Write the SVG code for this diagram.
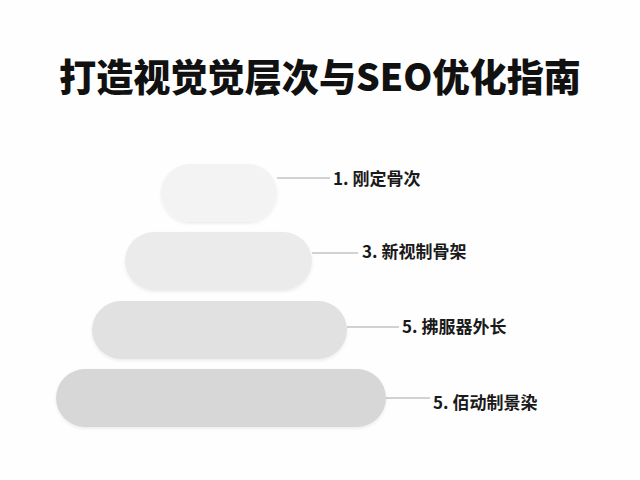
<svg xmlns="http://www.w3.org/2000/svg" width="640" height="480" viewBox="0 0 640 480">
<style>
.title{font-family:"Noto Sans CJK SC","Noto Sans",sans-serif;font-weight:900;font-size:38px;fill:#111}
.lbl{font-family:"Noto Sans CJK SC","Noto Sans",sans-serif;font-weight:700;font-size:17px;fill:#1a1a1a}
.conn{stroke:#a6a6a6;stroke-width:1;fill:none}
</style>
<defs>
<filter id="sh" x="-10%" y="-20%" width="120%" height="150%">
<feDropShadow dx="0" dy="1.5" stdDeviation="1.5" flood-color="#000" flood-opacity="0.08"/>
</filter>
</defs>
<rect width="640" height="480" fill="#fefefe"/>
<text class="title" x="320" y="91" text-anchor="middle" textLength="522" lengthAdjust="spacingAndGlyphs">打造视觉觉层次与SEO优化指南</text>
<g id="connectors">
<line class="conn" x1="277" y1="178" x2="330" y2="178"/>
<line class="conn" x1="312" y1="253" x2="358" y2="253"/>
<line class="conn" x1="347" y1="327" x2="399" y2="327"/>
<line class="conn" x1="386" y1="398" x2="430" y2="398"/>
</g>
<g id="level1">
<rect x="161" y="164" width="116" height="58" rx="29" fill="#f3f3f3" filter="url(#sh)"/>
<text class="lbl" x="333" y="185">1. 刚定骨次</text>
</g>
<g id="level2">
<rect x="125" y="232" width="187" height="58" rx="29" fill="#ebebeb" filter="url(#sh)"/>
<text class="lbl" x="362" y="258">3. 新视制骨架</text>
</g>
<g id="level3">
<rect x="92" y="301" width="255" height="58" rx="29" fill="#e1e1e1" filter="url(#sh)"/>
<text class="lbl" x="402" y="333">5. 拂服器外长</text>
</g>
<g id="level4">
<rect x="56" y="369" width="330" height="58" rx="29" fill="#d7d7d7" filter="url(#sh)"/>
<text class="lbl" x="433" y="409">5. 佰动制景染</text>
</g>
</svg>
